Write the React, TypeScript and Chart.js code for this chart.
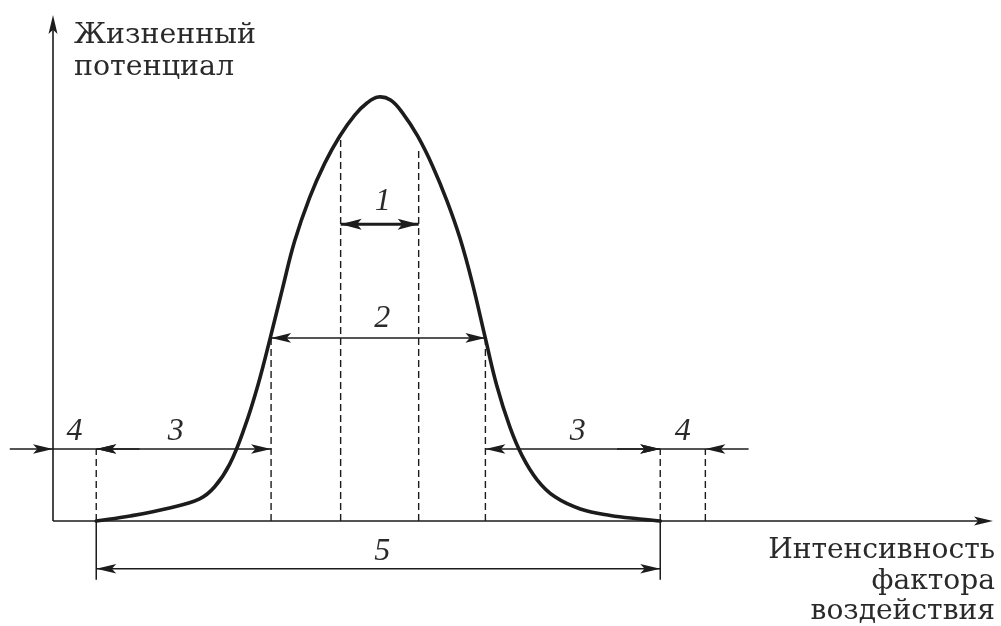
import React, { useEffect, useRef } from "react";
import { Chart, registerables } from "chart.js";

Chart.register(...registerables);

// Bell curve of the life potential against factor intensity (arbitrary units 0..100)
const curveX = [4.6, 8.2, 12.4, 15.6, 17.2, 18.8, 20.4, 21.8, 23.1, 24.4, 25.7, 27.3, 28.9, 30.5, 32.1, 33.4, 34.6, 35.9, 37.2, 38.8, 40.4, 41.9, 43.3, 44.6, 46.0, 47.2, 48.6, 49.9, 51.5, 53.4, 56.1, 59.3, 62.4, 64.6];
const curveY = [0, 1.0, 2.6, 4.4, 6.8, 11.3, 18.7, 27.0, 36.3, 46.1, 55.6, 64.3, 71.1, 76.5, 80.7, 83.1, 84.3, 83.7, 81.1, 76.5, 70.5, 63.7, 56.2, 47.4, 36.3, 27.0, 18.7, 13.0, 8.2, 4.8, 2.4, 1.1, 0.4, 0];

// Zone boundaries (dashed verticals) and the height where each dashed line starts
const boundaryX = [4.6, 23.2, 30.6, 38.9, 46.0, 64.6, 69.4];
const boundaryTop = [14.3, 36.4, 76.1, 74.2, 36.4, 14.3, 14.3];
// Boundaries that get a solid extension below the axis (for zone 5)
const extendedX = [4.6, 64.6];
const extensionBottom = -11.7;

// Dimension zones
const zoneNames = ["1", "2", "3", "4", "3", "4", "5"];
const zoneStart = [30.6, 23.2, 4.6, 0, 46.0, 64.6, 4.6];
const zoneEnd = [38.9, 46.0, 23.2, 4.6, 64.6, 69.4, 64.6];
const zoneLevel = [59.0, 36.4, 14.3, 14.3, 14.3, 14.3, -9.5];
const zoneOuter = [false, false, false, true, false, true, false];
const outerExt = 4.6;

const yTitle = ["Жизненный", "потенциал"];
const xTitle = ["Интенсивность", "фактора", "воздействия"];

const INK = "#1c1c1c";
const TEXT = "#2a2a2a";
const SERIF = "'DejaVu Serif', serif";
const DIGIT_FONT = "italic 32px 'Liberation Serif', serif";
// small pixel nudges for the italic digits (dx, dy)
const LABEL_NUDGE: [number, number][] = [[3, -5], [4, -2], [-8, 0], [0, 0], [5, 0], [0, 0], [4, 0]];

function head(ctx: CanvasRenderingContext2D, tx: number, ty: number, dx: number, dy: number, len: number, half: number) {
  const bx = tx - dx * len;
  const by = ty - dy * len;
  const nx = -dy, ny = dx;
  ctx.beginPath();
  ctx.moveTo(tx, ty);
  ctx.lineTo(bx + nx * half, by + ny * half);
  ctx.lineTo(bx + dx * len * 0.22, by + dy * len * 0.22);
  ctx.lineTo(bx - nx * half, by - ny * half);
  ctx.closePath();
  ctx.fill();
}

function fitSize(ctx: CanvasRenderingContext2D, text: string, family: string, target: number) {
  ctx.font = `100px ${family}`;
  return (100 * target) / ctx.measureText(text).width;
}

const overlay = {
  id: "overlay",
  afterDatasetsDraw(chart: any) {
    const ctx: CanvasRenderingContext2D = chart.ctx;
    const xs = chart.scales.x;
    const ys = chart.scales.y;
    const X = (v: number) => xs.getPixelForValue(v);
    const Y = (v: number) => ys.getPixelForValue(v);
    ctx.save();
    ctx.strokeStyle = INK;
    ctx.fillStyle = INK;

    // axes
    const ox = X(0), oy = Y(0);
    const top = Y(ys.max), right = X(xs.max);
    ctx.lineWidth = 1.6;
    ctx.beginPath();
    ctx.moveTo(ox, oy);
    ctx.lineTo(ox, top + 6);
    ctx.moveTo(ox, oy);
    ctx.lineTo(right - 6, oy);
    ctx.stroke();
    head(ctx, ox, top - 3, 0, -1, 19, 4.5);
    head(ctx, right, oy, 1, 0, 19, 4.5);

    // arrowheads of the zones
    zoneNames.forEach((_, i) => {
      const s = X(zoneStart[i]);
      const e = X(zoneEnd[i]);
      const yy = Y(zoneLevel[i]);
      const big = i === 0;
      const len = big ? 21 : 20;
      const half = big ? 5.5 : 4.8;
      if (zoneOuter[i]) {
        head(ctx, s, yy, 1, 0, len, half);
        head(ctx, e, yy, -1, 0, len, half);
      } else {
        head(ctx, s, yy, -1, 0, len, half);
        head(ctx, e, yy, 1, 0, len, half);
      }
    });

    // zone numbers
    ctx.fillStyle = TEXT;
    ctx.font = DIGIT_FONT;
    ctx.textAlign = "center";
    ctx.textBaseline = "alphabetic";
    zoneNames.forEach((n, i) => {
      const cx = (X(zoneStart[i]) + X(zoneEnd[i])) / 2 + LABEL_NUDGE[i][0];
      ctx.fillText(n, cx, Y(zoneLevel[i]) - 9 + LABEL_NUDGE[i][1]);
    });

    // axis titles
    const ySize = fitSize(ctx, yTitle[0], SERIF, 182);
    ctx.font = `${ySize}px ${SERIF}`;
    ctx.textAlign = "left";
    ctx.fillText(yTitle[0], ox + 21, top + 25);
    ctx.fillText(yTitle[1], ox + 21, top + 57);

    const xSize = fitSize(ctx, xTitle[0], SERIF, 227);
    ctx.font = `${xSize}px ${SERIF}`;
    ctx.textAlign = "right";
    ctx.fillText(xTitle[0], right + 2, oy + 37);
    ctx.fillText(xTitle[1], right + 2, oy + 68);
    ctx.fillText(xTitle[2], right + 2, oy + 98);
    ctx.restore();
  },
};

export default function App() {
  const ref = useRef<HTMLCanvasElement | null>(null);
  useEffect(() => {
    if (!ref.current) return;
    const pts = (xa: number[], ya: number[]) => xa.map((v, i) => ({ x: v, y: ya[i] }));
    const base = { showLine: true, pointRadius: 0, borderColor: INK, clip: false as const };
    const datasets: any[] = [];
    datasets.push({ ...base, data: pts(curveX, curveY), borderWidth: 3.6, tension: 0.4, borderJoinStyle: "round", borderCapStyle: "round" });
    boundaryX.forEach((bx, i) => {
      datasets.push({ ...base, data: [{ x: bx, y: 0 }, { x: bx, y: boundaryTop[i] }], borderWidth: 1.4, borderDash: [7, 4] });
    });
    extendedX.forEach((bx) => {
      datasets.push({ ...base, data: [{ x: bx, y: 0 }, { x: bx, y: extensionBottom }], borderWidth: 1.5 });
    });
    zoneNames.forEach((_, i) => {
      const s = zoneOuter[i] ? zoneStart[i] - outerExt : zoneStart[i];
      const e = zoneOuter[i] ? zoneEnd[i] + outerExt : zoneEnd[i];
      datasets.push({ ...base, data: [{ x: s, y: zoneLevel[i] }, { x: e, y: zoneLevel[i] }], borderWidth: i === 0 ? 3 : 1.5 });
    });
    const chart = new Chart(ref.current, {
      type: "scatter",
      data: { datasets },
      options: {
        responsive: false,
        animation: false,
        events: [],
        layout: { padding: { left: 53, right: 8, top: 18, bottom: 105 } },
        plugins: { legend: { display: false }, tooltip: { enabled: false } },
        scales: {
          x: { type: "linear", min: 0, max: 100, display: false },
          y: { type: "linear", min: 0, max: 100, display: false },
        },
      },
      plugins: [overlay],
    });
    return () => chart.destroy();
  }, []);
  return (
    <div style={{ position: "absolute", left: 0, top: 0, width: 1001, height: 626, background: "#fff" }}>
      <canvas ref={ref} width={1001} height={626} style={{ display: "block" }} />
    </div>
  );
}
